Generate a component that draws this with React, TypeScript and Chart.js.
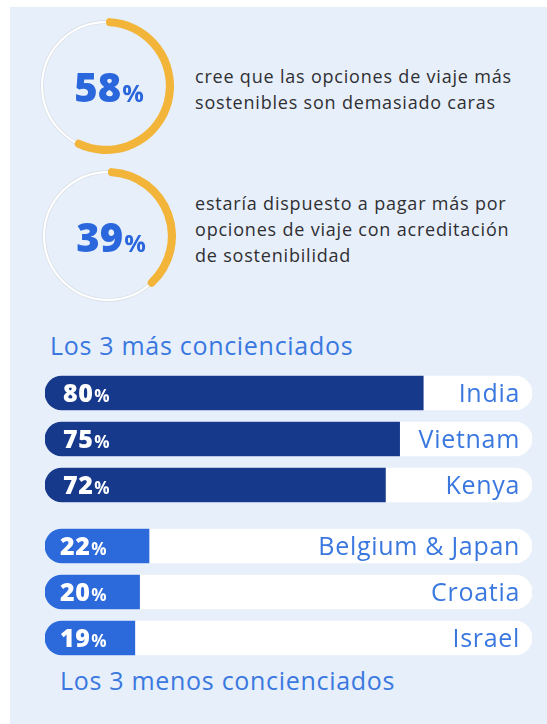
import React, { useEffect, useRef } from "react";
import { Chart, registerables } from "chart.js";
Chart.register(...registerables);

// ---- data ----
const gaugeValues = [58, 39];
const gaugeTextLines1 = ["cree que las opciones de viaje más", "sostenibles son demasiado caras"];
const gaugeTextLines2 = ["estaría dispuesto a pagar más por", "opciones de viaje con acreditación", "de sostenibilidad"];
const topTitle = "Los 3 más concienciados";
const topCountries = ["India", "Vietnam", "Kenya"];
const topValues = [80, 75, 72];
const bottomTitle = "Los 3 menos concienciados";
const bottomCountries = ["Belgium & Japan", "Croatia", "Israel"];
const bottomValues = [22, 20, 19];
const scaleMax = 103;

// ---- styles ----
const FONT = "'Open Sans', 'DejaVu Sans', sans-serif";
const YELLOW = "#f2b53a";
const NAVY = "#17398c";
const BLUE = "#2c69db";
const LABEL_BLUE = "#3a78e0";
const NUM_BLUE = "#2a66dc";
const PANEL = "#e7effa";
const TEXT = "#2f2f33";

function Gauge({ value, left, top, size }: { value: number; left: number; top: number; size: number }) {
  const ref = useRef<HTMLCanvasElement>(null);
  useEffect(() => {
    const trackPlugin = {
      id: "track",
      beforeDatasetsDraw(chart: any) {
        const arc = chart.getDatasetMeta(0).data[0];
        const { x, y, innerRadius, outerRadius } = arc.getProps(["x", "y", "innerRadius", "outerRadius"], true);
        const r = (innerRadius + outerRadius) / 2;
        const ctx = chart.ctx;
        ctx.save();
        ctx.beginPath();
        ctx.arc(x, y, r, 0, Math.PI * 2);
        ctx.strokeStyle = "#d6dbe4";
        ctx.lineWidth = 3.5;
        ctx.stroke();
        ctx.strokeStyle = "#ffffff";
        ctx.lineWidth = 2.2;
        ctx.stroke();
        ctx.restore();
      },
    };
    const centerPlugin = {
      id: "centerText",
      afterDatasetsDraw(chart: any) {
        const arc = chart.getDatasetMeta(0).data[0];
        const { x, y } = arc.getProps(["x", "y"], true);
        const ctx = chart.ctx;
        const num = String(value);
        ctx.save();
        ctx.fillStyle = NUM_BLUE;
        ctx.textBaseline = "alphabetic";
        ctx.font = `800 40px ${FONT}`;
        const w1 = ctx.measureText(num).width;
        ctx.font = `700 24px ${FONT}`;
        const w2 = ctx.measureText("%").width;
        const start = x + 3 - (w1 + w2 + 1) / 2;
        ctx.font = `800 40px ${FONT}`;
        ctx.fillText(num, start, y + 16);
        ctx.font = `700 24px ${FONT}`;
        ctx.fillText("%", start + w1 + 1, y + 16);
        ctx.restore();
      },
    };
    const chart = new Chart(ref.current!, {
      type: "doughnut",
      data: {
        labels: ["value", "rest"],
        datasets: [
          {
            data: [value, 100 - value],
            backgroundColor: [YELLOW, "rgba(0,0,0,0)"],
            borderWidth: 0,
            borderRadius: 4,
          },
        ],
      },
      options: {
        responsive: false,
        animation: false,
        cutout: "88%",
        rotation: 0,
        circumference: 360,
        layout: { padding: 0 },
        plugins: { legend: { display: false }, tooltip: { enabled: false } },
      } as any,
      plugins: [trackPlugin, centerPlugin],
    });
    return () => chart.destroy();
  }, [value]);
  return (
    <canvas
      ref={ref}
      width={size}
      height={size}
      style={{ position: "absolute", left, top, width: size, height: size }}
    />
  );
}

function BarGroup({
  labels,
  values,
  color,
  left,
  top,
  width,
  height,
  pctOffset,
}: {
  labels: string[];
  values: number[];
  color: string;
  left: number;
  top: number;
  width: number;
  height: number;
  pctOffset: number;
}) {
  const ref = useRef<HTMLCanvasElement>(null);
  useEffect(() => {
    const labelPlugin = {
      id: "barLabels",
      afterDatasetsDraw(chart: any) {
        const ctx = chart.ctx;
        const meta = chart.getDatasetMeta(0);
        ctx.save();
        ctx.textBaseline = "alphabetic";
        meta.data.forEach((bar: any, i: number) => {
          const { y, base } = bar.getProps(["y", "base"], true);
          const num = String(values[i]);
          ctx.fillStyle = "#ffffff";
          ctx.textAlign = "left";
          (ctx as any).letterSpacing = "0.5px";
          ctx.font = `800 25px ${FONT}`;
          ctx.fillText(num, base + pctOffset, y + 9);
          const w = ctx.measureText(num).width;
          (ctx as any).letterSpacing = "0px";
          ctx.font = `700 17px ${FONT}`;
          ctx.fillText("%", base + pctOffset + w + 1, y + 9);
          ctx.fillStyle = LABEL_BLUE;
          ctx.textAlign = "right";
          (ctx as any).letterSpacing = "0.7px";
          ctx.font = `400 25px ${FONT}`;
          ctx.fillText(labels[i], chart.chartArea.right - 12, y + 9);
          (ctx as any).letterSpacing = "0px";
        });
        ctx.restore();
      },
    };
    const chart = new Chart(ref.current!, {
      type: "bar",
      data: {
        labels,
        datasets: [
          {
            data: values,
            backgroundColor: color,
            borderWidth: 0,
            borderSkipped: false,
            borderRadius: { topLeft: 17, bottomLeft: 17, topRight: 0, bottomRight: 0 },
            barThickness: 34,
            grouped: false,
            order: 0,
          },
          {
            data: labels.map(() => scaleMax),
            backgroundColor: "#ffffff",
            borderWidth: 0,
            borderSkipped: false,
            borderRadius: 17,
            barThickness: 34,
            grouped: false,
            order: 1,
          },
        ],
      },
      options: {
        indexAxis: "y",
        responsive: false,
        animation: false,
        layout: { padding: 0 },
        scales: {
          x: { display: false, min: 0, max: scaleMax },
          y: { display: false },
        },
        plugins: { legend: { display: false }, tooltip: { enabled: false } },
      } as any,
      plugins: [labelPlugin],
    });
    return () => chart.destroy();
  }, []);
  return (
    <canvas
      ref={ref}
      width={width}
      height={height}
      style={{ position: "absolute", left, top, width, height }}
    />
  );
}

const paraStyle: React.CSSProperties = {
  position: "absolute",
  left: 195,
  fontFamily: FONT,
  fontSize: 18,
  letterSpacing: "0.8px",
  lineHeight: "26px",
  color: TEXT,
  whiteSpace: "nowrap",
};

const headStyle: React.CSSProperties = {
  position: "absolute",
  fontFamily: FONT,
  fontSize: 25,
  letterSpacing: "0.7px",
  lineHeight: "30px",
  color: LABEL_BLUE,
  whiteSpace: "nowrap",
};

export default function App() {
  return (
    <div style={{ position: "absolute", left: 0, top: 0, width: 547, height: 724, background: "#ffffff", overflow: "hidden" }}>
      <div style={{ position: "absolute", left: 10, top: 7, width: 537, height: 717, background: PANEL }} />
      <Gauge value={gaugeValues[0]} left={38} top={18} size={136} />
      <Gauge value={gaugeValues[1]} left={40} top={168} size={136} />
      <div style={{ ...paraStyle, top: 63 }}>
        {gaugeTextLines1.map((l, i) => (
          <div key={i}>{l}</div>
        ))}
      </div>
      <div style={{ ...paraStyle, top: 190 }}>
        {gaugeTextLines2.map((l, i) => (
          <div key={i}>{l}</div>
        ))}
      </div>
      <div style={{ ...headStyle, left: 50, top: 330 }}>{topTitle}</div>
      <BarGroup labels={topCountries} values={topValues} color={NAVY} left={45} top={370} width={487} height={138} pctOffset={18} />
      <BarGroup labels={bottomCountries} values={bottomValues} color={BLUE} left={45} top={523} width={487} height={138} pctOffset={15} />
      <div style={{ ...headStyle, left: 60, top: 665 }}>{bottomTitle}</div>
    </div>
  );
}
